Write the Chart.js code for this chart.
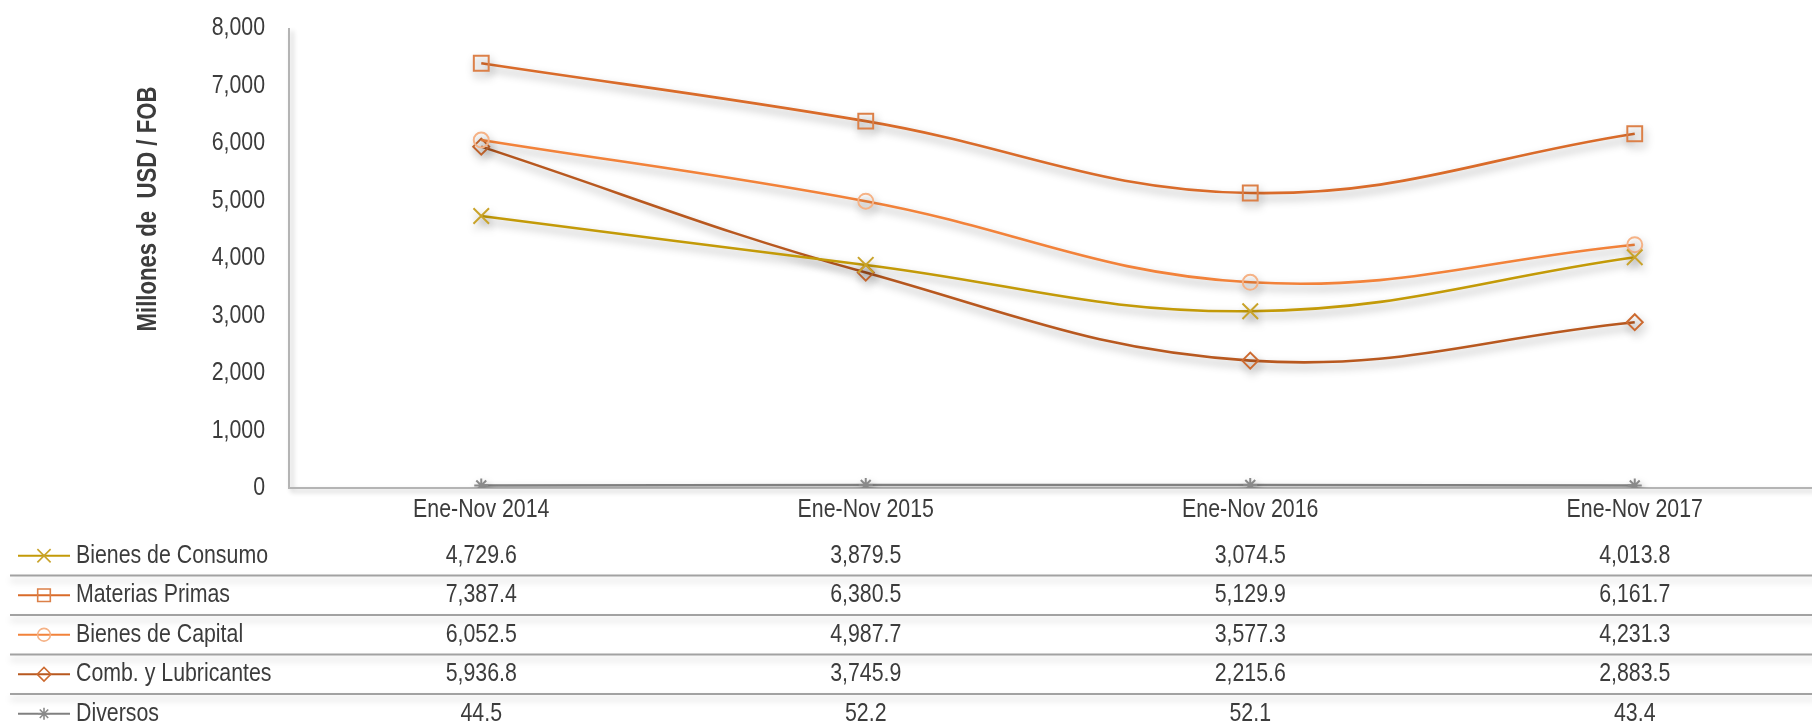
<!DOCTYPE html>
<html>
<head>
<meta charset="utf-8">
<script src="https://cdn.jsdelivr.net/npm/chart.js@4.4.1/dist/chart.umd.min.js"></script>
<style>
  html, body { margin: 0; padding: 0; background: #fff; overflow: hidden; }
  #wrap { position: absolute; left: 0; top: 0; width: 1840px; height: 725px; }
</style>
</head>
<body>
<div id="wrap"><canvas id="chart" width="1840" height="725"></canvas></div>
<script>
const periodos = ['Ene-Nov 2014', 'Ene-Nov 2015', 'Ene-Nov 2016', 'Ene-Nov 2017'];

const bienesConsumo = [4729.6, 3879.5, 3074.5, 4013.8];
const materiasPrimas = [7387.4, 6380.5, 5129.9, 6161.7];
const bienesCapital = [6052.5, 4987.7, 3577.3, 4231.3];
const combLubricantes = [5936.8, 3745.9, 2215.6, 2883.5];
const diversos = [44.5, 52.2, 52.1, 43.4];

const yTicks = [0, 1000, 2000, 3000, 4000, 5000, 6000, 7000, 8000];

const FONT = "'Liberation Sans', Arial, sans-serif";
const TXT = '#3c3c3c';
const NARROW = 0.82;   // squeeze Liberation Sans to a narrow face

function serie(label, data, color, markColor, style, radius) {
    return {
        label: label,
        data: data,
        borderColor: color,
        backgroundColor: color,
        borderWidth: 2.6,
        tension: 0.4,
        pointStyle: style,
        pointRadius: radius,
        pointHoverRadius: radius,
        pointBorderColor: markColor,
        pointBackgroundColor: 'rgba(0,0,0,0)',
        pointBorderWidth: 2
    };
}

const fmt = v => v.toLocaleString('en-US', { minimumFractionDigits: 1, maximumFractionDigits: 1 });

function narrowText(ctx, text, x, y, align, font, rot) {
    ctx.save();
    ctx.translate(x, y);
    if (rot) ctx.rotate(rot);
    ctx.scale(NARROW, 1);
    ctx.font = font;
    ctx.fillStyle = TXT;
    ctx.textAlign = align;
    ctx.textBaseline = 'middle';
    ctx.fillText(text, 0, 0);
    ctx.restore();
}

// soft drop shadow under each series
const shadowPlugin = {
    id: 'shadow',
    beforeDatasetDraw(chart) {
        const ctx = chart.ctx;
        ctx.save();
        ctx.shadowColor = 'rgba(0,0,0,0.38)';
        ctx.shadowBlur = 8;
        ctx.shadowOffsetX = 2;
        ctx.shadowOffsetY = 5;
    },
    afterDatasetDraw(chart) {
        chart.ctx.restore();
    }
};

// axis lines, tick labels and axis title
const axesPlugin = {
    id: 'axes',
    beforeDatasetsDraw(chart) {
        const { ctx, chartArea, scales } = chart;
        ctx.save();
        ctx.strokeStyle = '#b4b4b4';
        ctx.lineWidth = 2;
        ctx.shadowColor = 'rgba(0,0,0,0.24)';
        ctx.shadowBlur = 5;
        ctx.shadowOffsetX = 3;
        ctx.shadowOffsetY = 3;
        ctx.beginPath();
        ctx.moveTo(chartArea.left, chartArea.top);
        ctx.lineTo(chartArea.left, chartArea.bottom);
        ctx.lineTo(chart.width, chartArea.bottom);
        ctx.stroke();
        ctx.restore();

        const f = '26px ' + FONT;
        yTicks.forEach(v => {
            narrowText(ctx, v.toLocaleString('en-US'), chartArea.left - 24, scales.y.getPixelForValue(v), 'right', f);
        });
        periodos.forEach((p, i) => {
            narrowText(ctx, p, scales.x.getPixelForValue(i), chartArea.bottom + 22, 'center', f);
        });
        narrowText(ctx, 'Millones de  USD / FOB', 149, 209, 'center', 'bold 27px ' + FONT, -Math.PI / 2);
    }
};

// data table under the category axis
const tablePlugin = {
    id: 'dataTable',
    afterDraw(chart) {
        const { ctx } = chart;
        const xs = chart.scales.x;
        const top = 536, rowH = 39.5;
        const sets = chart.data.datasets;

        ctx.save();
        ctx.strokeStyle = '#a2a2a2';
        ctx.lineWidth = 2;
        ctx.shadowColor = 'rgba(0,0,0,0.2)';
        ctx.shadowBlur = 7;
        ctx.shadowOffsetY = 5;
        for (let i = 1; i < sets.length; i++) {
            const y = top + rowH * i;
            ctx.beginPath();
            ctx.moveTo(10, y);
            ctx.lineTo(chart.width, y);
            ctx.stroke();
        }
        ctx.restore();

        const f = '26px ' + FONT;
        sets.forEach((ds, i) => {
            const cy = top + rowH * (i + 0.5);
            ctx.save();
            ctx.strokeStyle = ds.borderColor;
            ctx.lineWidth = 2;
            ctx.beginPath();
            ctx.moveTo(18, cy);
            ctx.lineTo(70, cy);
            ctx.stroke();
            ctx.strokeStyle = ds.pointBorderColor;
            ctx.fillStyle = 'rgba(0,0,0,0)';
            ctx.lineWidth = 1.6;
            Chart.helpers.drawPoint(ctx, {
                pointStyle: ds.pointStyle,
                radius: ds.pointRadius * 0.85,
                rotation: 0,
                borderWidth: 1.6
            }, 44, cy);
            ctx.restore();

            narrowText(ctx, ds.label, 76, cy, 'left', f);
            ds.data.forEach((v, j) => {
                narrowText(ctx, fmt(v), xs.getPixelForValue(j), cy, 'center', f);
            });
        });
    }
};

new Chart(document.getElementById('chart'), {
    type: 'line',
    data: {
        labels: periodos,
        datasets: [
            serie('Bienes de Consumo', bienesConsumo, '#c39a08', '#c9a32a', 'crossRot', 11),
            serie('Materias Primas', materiasPrimas, '#d96b2a', '#dc8048', 'rect', 10.5),
            serie('Bienes de Capital', bienesCapital, '#f2823a', '#f5b286', 'circle', 7.5),
            serie('Comb. y Lubricantes', combLubricantes, '#b8581f', '#cc6a30', 'rectRot', 8),
            serie('Diversos', diversos, '#808080', '#8a8a8a', 'star', 7)
        ]
    },
    options: {
        responsive: false,
        animation: false,
        layout: { padding: { top: 28, right: 7, left: 0, bottom: 0 } },
        plugins: {
            legend: { display: false },
            tooltip: { enabled: false },
            title: { display: false }
        },
        scales: {
            x: {
                type: 'category',
                offset: true,
                grid: { display: false, drawTicks: false },
                border: { display: false },
                ticks: { display: false },
                afterFit(scale) { scale.height = 237; }
            },
            y: {
                min: 0,
                max: 8000,
                grid: { display: false, drawTicks: false },
                border: { display: false },
                ticks: { display: false, stepSize: 1000 },
                afterFit(scale) { scale.width = 289; }
            }
        }
    },
    plugins: [shadowPlugin, axesPlugin, tablePlugin]
});
</script>
</body>
</html>
